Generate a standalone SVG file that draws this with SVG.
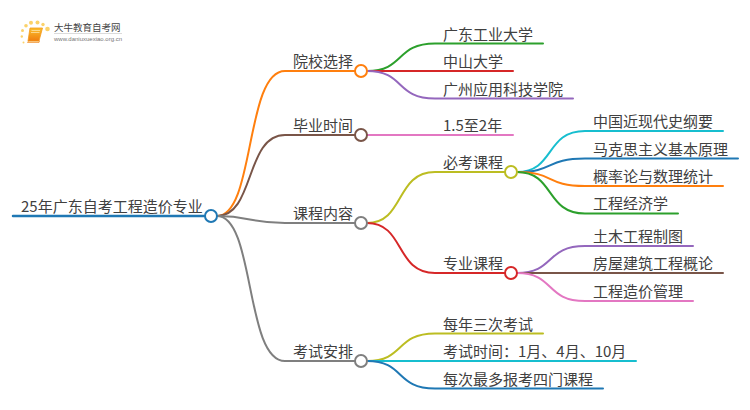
<svg xmlns="http://www.w3.org/2000/svg" width="750" height="410" viewBox="0 0 750 410">
<defs><linearGradient id="bk" x1="0" y1="0" x2="0" y2="1"><stop offset="0" stop-color="#fbc02d"/><stop offset="1" stop-color="#ef7d10"/></linearGradient></defs>
<style>
.l{fill:none;stroke-width:2;stroke-linecap:round}
.n{fill:#fff;stroke-width:2}
text{font-family:"Noto Sans CJK SC","Liberation Sans",sans-serif;font-size:15px;fill:#404040}
.dot{fill:#fbd26a}
</style>
<rect width="750" height="410" fill="#fff"/>
<g id="logo">
<circle class="dot" cx="47.500" cy="29" r="2.300"/><circle class="dot" cx="43" cy="24.500" r="1.700"/>
<circle class="dot" cx="37.500" cy="22.500" r="2"/><circle class="dot" cx="31" cy="22.800" r="2"/><circle class="dot" cx="26" cy="25.800" r="1.800"/><circle class="dot" cx="22.500" cy="30.500" r="1.500"/><circle class="dot" cx="21.800" cy="36.500" r="1.200"/><circle class="dot" cx="23.500" cy="42.500" r="1"/>
<path d="M30 28H42.500L39 41H28Z" fill="url(#bk)" stroke="#f29a1c" stroke-width="0.800" stroke-linejoin="round"/>
<path d="M27.500 42.500H39L39.500 41H28.500Z" fill="#fde3a7" stroke="#ef7d10" stroke-width="0.600"/>
<path d="M31.500 30.500H40M31 32.500H39.500" stroke="#fde9b8" stroke-width="0.700" fill="none"/>
<text x="54" y="31" style="font-size:9.500px;fill:#444">大牛教育自考网</text>
<rect x="54" y="33" width="68" height="0.700" fill="#ccc"/>
<text x="54" y="41" style="font-size:6px;fill:#777;font-family:'Liberation Sans',sans-serif">www.daniuxuexiao.org.cn</text>
</g>
<g id="connectors">
<path class="l" style="stroke:#1f78b4;stroke-width:2.500" d="M13 216H205"/>
<path class="l" style="stroke:#ff7f0e" d="M217 216C255 216 245 71 285 71H355"/>
<path class="l" style="stroke:#795548" d="M217 216C255 216 245 135 285 135H355"/>
<path class="l" style="stroke:#7f7f7f" d="M217 216C250 216 250 223 285 223H355"/>
<path class="l" style="stroke:#7f7f7f" d="M217 216C255 216 245 361 285 361H355"/>
<path class="l" style="stroke:#2ca02c" d="M367 71C405 71 395 43.500 435 43.500H543"/>
<path class="l" style="stroke:#d62728" d="M367 71H513"/>
<path class="l" style="stroke:#9467bd" d="M367 71C405 71 395 98.500 435 98.500H573"/>
<path class="l" style="stroke:#e377c2" d="M367 135H513"/>
<path class="l" style="stroke:#bcbd22" d="M367 223C405 223 395 172 435 172H505"/>
<path class="l" style="stroke:#d62728" d="M367 223C405 223 395 273 435 273H505"/>
<path class="l" style="stroke:#17becf" d="M517 172C555 172 545 131 585 131H723"/>
<path class="l" style="stroke:#1f78b4" d="M517 172C555 172 545 158.500 585 158.500H738"/>
<path class="l" style="stroke:#ff7f0e" d="M517 172C555 172 545 186 585 186H723"/>
<path class="l" style="stroke:#2ca02c" d="M517 172C555 172 545 213.500 585 213.500H678"/>
<path class="l" style="stroke:#9467bd" d="M517 273C555 273 545 246 585 246H693"/>
<path class="l" style="stroke:#795548" d="M517 273H723"/>
<path class="l" style="stroke:#e377c2" d="M517 273C555 273 545 301 585 301H693"/>
<path class="l" style="stroke:#bcbd22" d="M367 361C405 361 395 333.500 435 333.500H543"/>
<path class="l" style="stroke:#17becf" d="M367 361H636"/>
<path class="l" style="stroke:#1f78b4" d="M367 361C405 361 395 388.500 435 388.500H603"/>
</g>
<g id="root"><text x="21" y="212">25年广东自考工程造价专业</text><circle class="n" cx="211" cy="216" r="6" stroke="#1f78b4"/></g>
<g id="n1"><text x="293" y="67">院校选择</text><circle class="n" cx="361" cy="71" r="6" stroke="#ff7f0e"/></g>
<g id="n2"><text x="293" y="131">毕业时间</text><circle class="n" cx="361" cy="135" r="6" stroke="#795548"/></g>
<g id="n3"><text x="293" y="219">课程内容</text><circle class="n" cx="361" cy="223" r="6" stroke="#7f7f7f"/></g>
<g id="n4"><text x="293" y="357">考试安排</text><circle class="n" cx="361" cy="361" r="6" stroke="#7f7f7f"/></g>
<g id="n5"><text x="443" y="40">广东工业大学</text></g>
<g id="n6"><text x="443" y="67">中山大学</text></g>
<g id="n7"><text x="443" y="95">广州应用科技学院</text></g>
<g id="n8"><text x="443" y="131">1.5至2年</text></g>
<g id="n9"><text x="443" y="168">必考课程</text><circle class="n" cx="511" cy="172" r="6" stroke="#bcbd22"/></g>
<g id="n10"><text x="443" y="269">专业课程</text><circle class="n" cx="511" cy="273" r="6" stroke="#d62728"/></g>
<g id="n11"><text x="593" y="127">中国近现代史纲要</text></g>
<g id="n12"><text x="593" y="155">马克思主义基本原理</text></g>
<g id="n13"><text x="593" y="182">概率论与数理统计</text></g>
<g id="n14"><text x="593" y="209">工程经济学</text></g>
<g id="n15"><text x="593" y="242">土木工程制图</text></g>
<g id="n16"><text x="593" y="269">房屋建筑工程概论</text></g>
<g id="n17"><text x="593" y="297">工程造价管理</text></g>
<g id="n18"><text x="443" y="330">每年三次考试</text></g>
<g id="n19"><text x="443" y="357">考试时间：1月、4月、10月</text></g>
<g id="n20"><text x="443" y="385">每次最多报考四门课程</text></g>
</svg>
